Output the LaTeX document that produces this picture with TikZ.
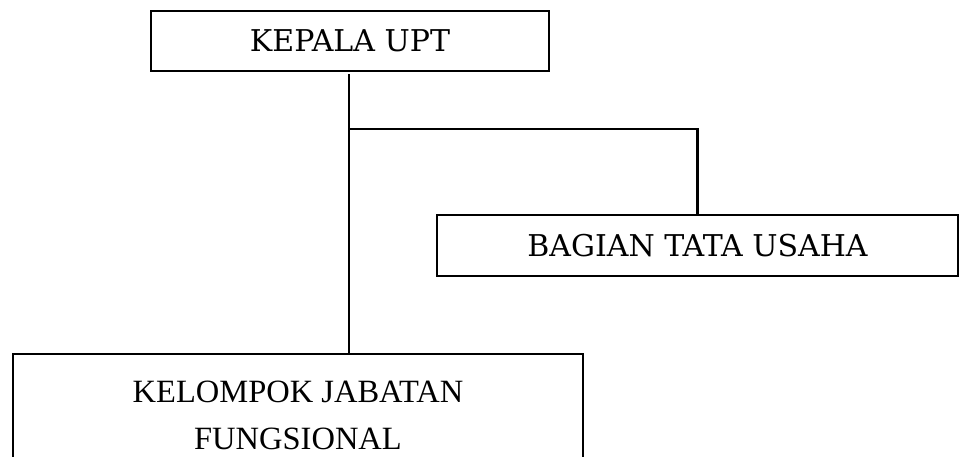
\documentclass[tikz,border=0pt]{standalone}
\usepackage{fontspec}
\newfontfamily\timesfont{Liberation Serif}
\newfontfamily\schoolfont{DejaVu Serif}
\begin{document}
\begin{tikzpicture}[x=1pt,y=-1pt,
  box/.style={draw=black,line width=2pt,rectangle,inner sep=0pt,align=center,font=\schoolfont\fontsize{30}{36}\selectfont},
  conn/.style={draw=black,line width=2.2pt}]
\useasboundingbox (0,0) rectangle (965,456);
\node[box,minimum width=398pt,minimum height=60pt] (top) at (350,41) {KEPALA UPT};
\node[box,minimum width=521pt,minimum height=61pt] (bag) at (697.5,245.5) {BAGIAN TATA USAHA};
\node[box,minimum width=570pt,minimum height=122pt,font=\timesfont\fontsize{32.5}{47}\selectfont] (bot) at (298,415) {KELOMPOK JABATAN\\FUNGSIONAL};
\coordinate (j) at (349,129);
\draw[conn] ([yshift=-2pt]top.south -| j) -- (j |- bot.north);
\draw[conn] (j) -- (j -| bag.north) -- (bag.north);
\end{tikzpicture}
\end{document}
